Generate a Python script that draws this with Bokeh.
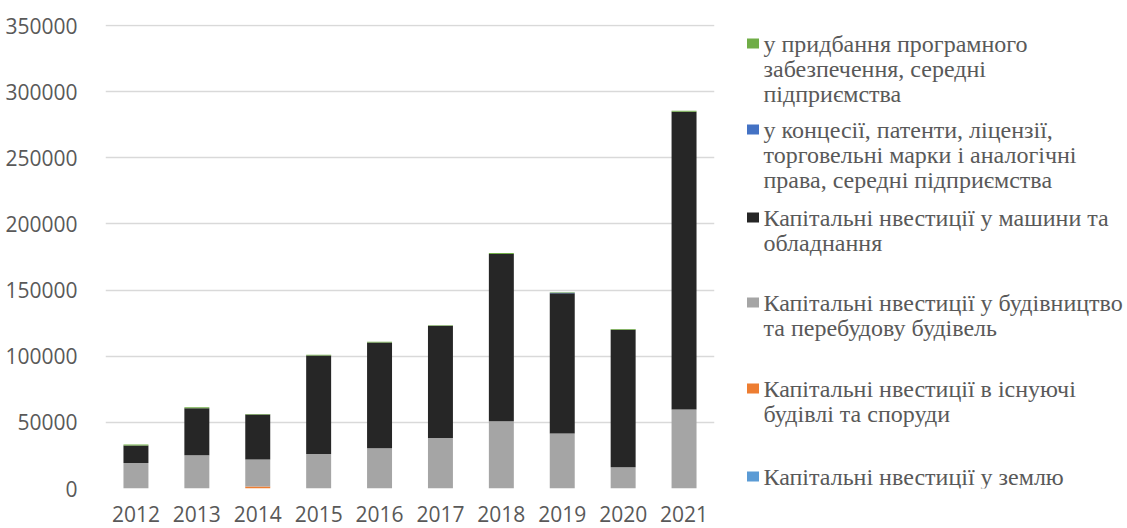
from bokeh.plotting import figure
from bokeh.models import ColumnDataSource, FactorRange, Range1d, FixedTicker, BasicTickFormatter
from bokeh.layouts import row
from bokeh.core.properties import value
from bokeh.embed import file_html
from bokeh.resources import INLINE

years = ["2012", "2013", "2014", "2015", "2016", "2017", "2018", "2019", "2020", "2021"]

land = [0, 0, 0, 0, 0, 0, 0, 0, 0, 0]
existing_buildings = [0, 0, 1500, 0, 0, 0, 0, 0, 0, 0]
construction = [19300, 25200, 20400, 26100, 30400, 38200, 50800, 41500, 16100, 59700]
machinery = [13300, 35500, 34000, 74400, 79900, 84800, 126500, 106200, 103900, 225100]
concessions = [0, 0, 0, 0, 0, 0, 0, 300, 0, 0]
software = [600, 700, 500, 700, 700, 500, 700, 400, 500, 700]

series_keys = ["land", "existing", "construction", "machinery", "concessions", "software"]
series_colors = ["#5B9BD5", "#ED7D31", "#A5A5A5", "#262626", "#4472C4", "#70AD47"]
series_names = [
    "Капітальні нвестиції у землю",
    "Капітальні нвестиції в існуючі\nбудівлі та споруди",
    "Капітальні нвестиції у будівництво\nта перебудову будівель",
    "Капітальні нвестиції у машини та\nобладнання",
    "у концесії, патенти, ліцензії,\nторговельні марки і аналогічні\nправа, середні підприємства",
    "у придбання програмного\nзабезпечення, середні\nпідприємства",
]

y_ticks = [0, 50000, 100000, 150000, 200000, 250000, 300000, 350000]

source = ColumnDataSource(data=dict(
    years=years, land=land, existing=existing_buildings, construction=construction,
    machinery=machinery, concessions=concessions, software=software,
))

text_color = "#595959"
H = 528
TOP, BOTTOM = 24, 40

p = figure(
    x_range=FactorRange(*years, range_padding=0),
    y_range=Range1d(0, 350800),
    width=728, height=H,
    output_backend="svg", toolbar_location=None,
    min_border_left=105, min_border_right=14, min_border_top=TOP, min_border_bottom=BOTTOM,
)
p.vbar_stack(series_keys, x="years", width=0.41, color=series_colors, source=source,
             line_color=None)

p.outline_line_color = None
p.xgrid.grid_line_color = None
p.ygrid.grid_line_color = "#D9D9D9"
p.ygrid.grid_line_width = 1.3
p.yaxis.ticker = FixedTicker(ticks=y_ticks)
p.yaxis.formatter = BasicTickFormatter(use_scientific=False)
for ax in (p.xaxis, p.yaxis):
    ax.axis_line_color = None
    ax.major_tick_line_color = None
    ax.minor_tick_line_color = None
    ax.major_label_text_font = "Open Sans"
    ax.major_label_text_font_size = "21px"
    ax.major_label_text_color = text_color
p.yaxis.major_label_standoff = 22
p.xaxis.major_label_standoff = 11

# legend panel (data units = pixels of the page)
lw = 1127 - 728
lg = figure(width=lw, height=H, x_range=Range1d(0, lw), y_range=Range1d(H - BOTTOM, TOP),
            output_backend="svg", toolbar_location=None,
            x_axis_type=None, y_axis_type=None,
            min_border_left=0, min_border_right=0, min_border_top=TOP, min_border_bottom=BOTTOM)
lg.outline_line_color = None
lg.xgrid.grid_line_color = None
lg.ygrid.grid_line_color = None

slot_y = [476, 388, 302, 217, 129, 43]  # first-line centres, legend order bottom->top
mx, my, mc = [], [], []
tx, ty, tt = [], [], []
for name, col, y0 in zip(series_names, series_colors, slot_y):
    mx.append(24.5)
    my.append(y0)
    mc.append(col)
    for i, line in enumerate(name.split("\n")):
        tx.append(35)
        ty.append(y0 + 25 * i)
        tt.append(line)
lg.rect(x=mx, y=my, width=12, height=10, color=mc, line_color=None)
lg.text(x=tx, y=ty, text=tt, text_font=value("Liberation Serif"), text_font_size="24px",
        text_color=text_color, text_baseline="middle", text_align="left")

layout = row(p, lg)
open("out.html", "w").write(file_html(layout, INLINE))
